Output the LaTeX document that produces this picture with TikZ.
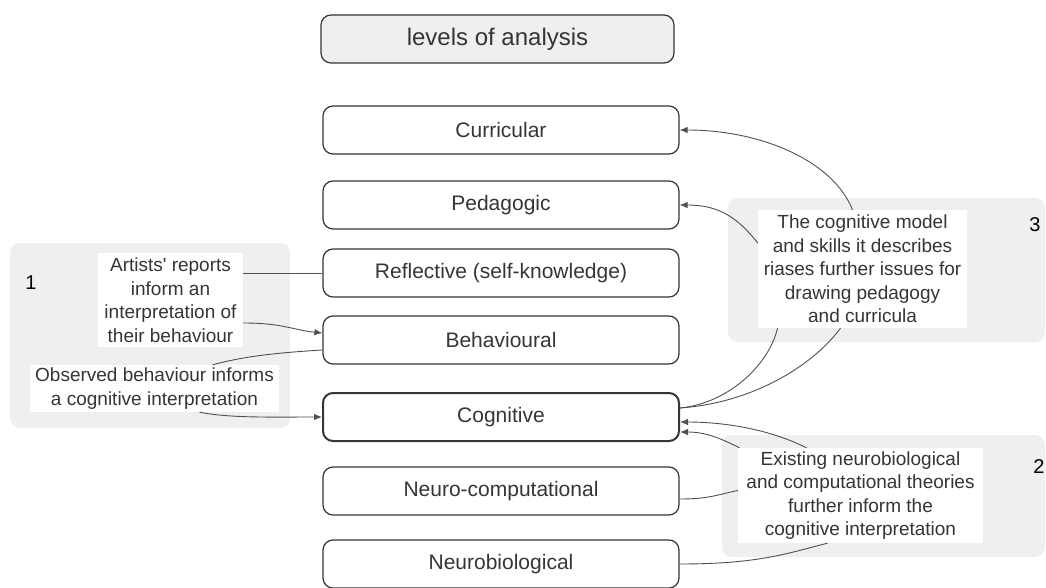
\documentclass[tikz,border=0pt]{standalone}
\usepackage{fontspec}
\setmainfont{Liberation Sans}
\usetikzlibrary{arrows.meta}

\definecolor{panelgray}{HTML}{EFEFEF}
\definecolor{textgray}{HTML}{353535}
\definecolor{linegray}{HTML}{505050}

\begin{document}
\begin{tikzpicture}[x=1pt, y=-1pt,
    level/.style={draw=textgray, line width=1.2pt, rounded corners=10pt,
        minimum width=356pt, minimum height=48pt, text=textgray,
        font=\fontsize{21}{25}\selectfont},
    note/.style={fill=white, text=textgray, align=center, inner sep=2pt,
        font=\fontsize{19}{23.5}\selectfont},
    panel/.style={fill=panelgray, rounded corners=10pt},
    num/.style={text=black, font=\fontsize{20}{24}\selectfont},
    link/.style={draw=linegray, line width=0.9pt},
    >={Latex[length=8pt,width=6.5pt]}
]

    \useasboundingbox (0,0) rectangle (1046,588);

    % Grey panels behind the notes
    \fill[panel] (10,243) rectangle (290,428);
    \fill[panel] (728,198) rectangle (1045,342);
    \fill[panel] (722,435) rectangle (1045,557);

    \node[num] (one) at (31,283) {1};
    \node[num] (three) at (1035,225) {3};
    \node[num] (two) at (1039,467) {2};

    % The levels
    \node[level, fill=panelgray, minimum width=353pt, font=\fontsize{24}{28}\selectfont] (title) at (497.5,39) {levels of analysis};

    \node[level] (curricular) at (501,130) {Curricular};
    \node[level] (pedagogic) at (501,205) {Pedagogic};
    \node[level] (reflective) at (501,273) {Reflective (self-knowledge)};
    \node[level] (behavioural) at (501,340) {Behavioural};
    \node[level, line width=2pt] (cognitive) at (501,417) {Cognitive};
    \node[level] (neurocomp) at (501,491) {Neuro-computational};
    \node[level] (neurobio) at (501,564) {Neurobiological};

    % Notes
    \node[note, minimum width=145pt, minimum height=94pt] (artists) at (170.5,300)
        {Artists\textquotesingle{} reports\\inform an\\interpretation of\\their behaviour};
    \node[note, minimum width=249pt, minimum height=47pt] (observed) at (154.5,388.5)
        {Observed behaviour informs\\a cognitive interpretation};
    \node[note, minimum width=209pt, minimum height=118pt] (model) at (862.5,269)
        {The cognitive model\\and skills it describes\\riases further issues for\\drawing pedagogy\\and curricula};
    \node[note, minimum width=245pt, minimum height=95pt] (existing) at (860.5,495.5)
        {Existing neurobiological\\and computational theories\\further inform the\\cognitive interpretation};

    % Panel 1
    \draw[link] (reflective.west) -- (reflective.west -| artists.east);
    \draw[link, ->] ([yshift=-23pt]artists.east) .. controls +(40,0) and +(-30,-3) .. ([yshift=7pt]behavioural.west);
    \draw[link] ([yshift=-10pt]behavioural.west) .. controls +(-50,3) and +(30,-8) .. ([xshift=58pt]observed.north);
    \draw[link, ->] ([xshift=45pt]observed.south) .. controls +(30,6) and +(-50,0) .. (cognitive.west);

    % Panel 3
    \draw[link, ->] ([xshift=-10pt]model.north) .. controls +(-20,-50) and +(80,0) .. (curricular.east);
    \draw[link, ->] ([yshift=26pt]model.west) .. controls +(-20,-25) and +(40,0) .. (pedagogic.east);
    \draw[link] ([yshift=9pt]cognitive.east) .. controls +(50,-5) and +(-8,35) .. ([xshift=-85pt]model.south);
    \draw[link] ([yshift=9pt]cognitive.east) .. controls +(70,-5) and +(-30,40) .. ([xshift=-22pt]model.south);

    % Panel 2
    \draw[link, ->] ([xshift=-54pt]existing.north) .. controls +(-40,-20) and +(40,0) .. ([yshift=-5pt]cognitive.east);
    \draw[link, ->] ([xshift=-121pt]existing.north) .. controls +(-20,-10) and +(25,0) .. ([yshift=-15pt]cognitive.east);
    \draw[link] ([yshift=-8pt]neurocomp.east) .. controls +(30,0) and +(-20,4) .. ([yshift=5pt]existing.west);
    \draw[link] (neurobio.east) .. controls +(80,0) and +(-40,10) .. ([xshift=-33pt]existing.south);

\end{tikzpicture}
\end{document}
